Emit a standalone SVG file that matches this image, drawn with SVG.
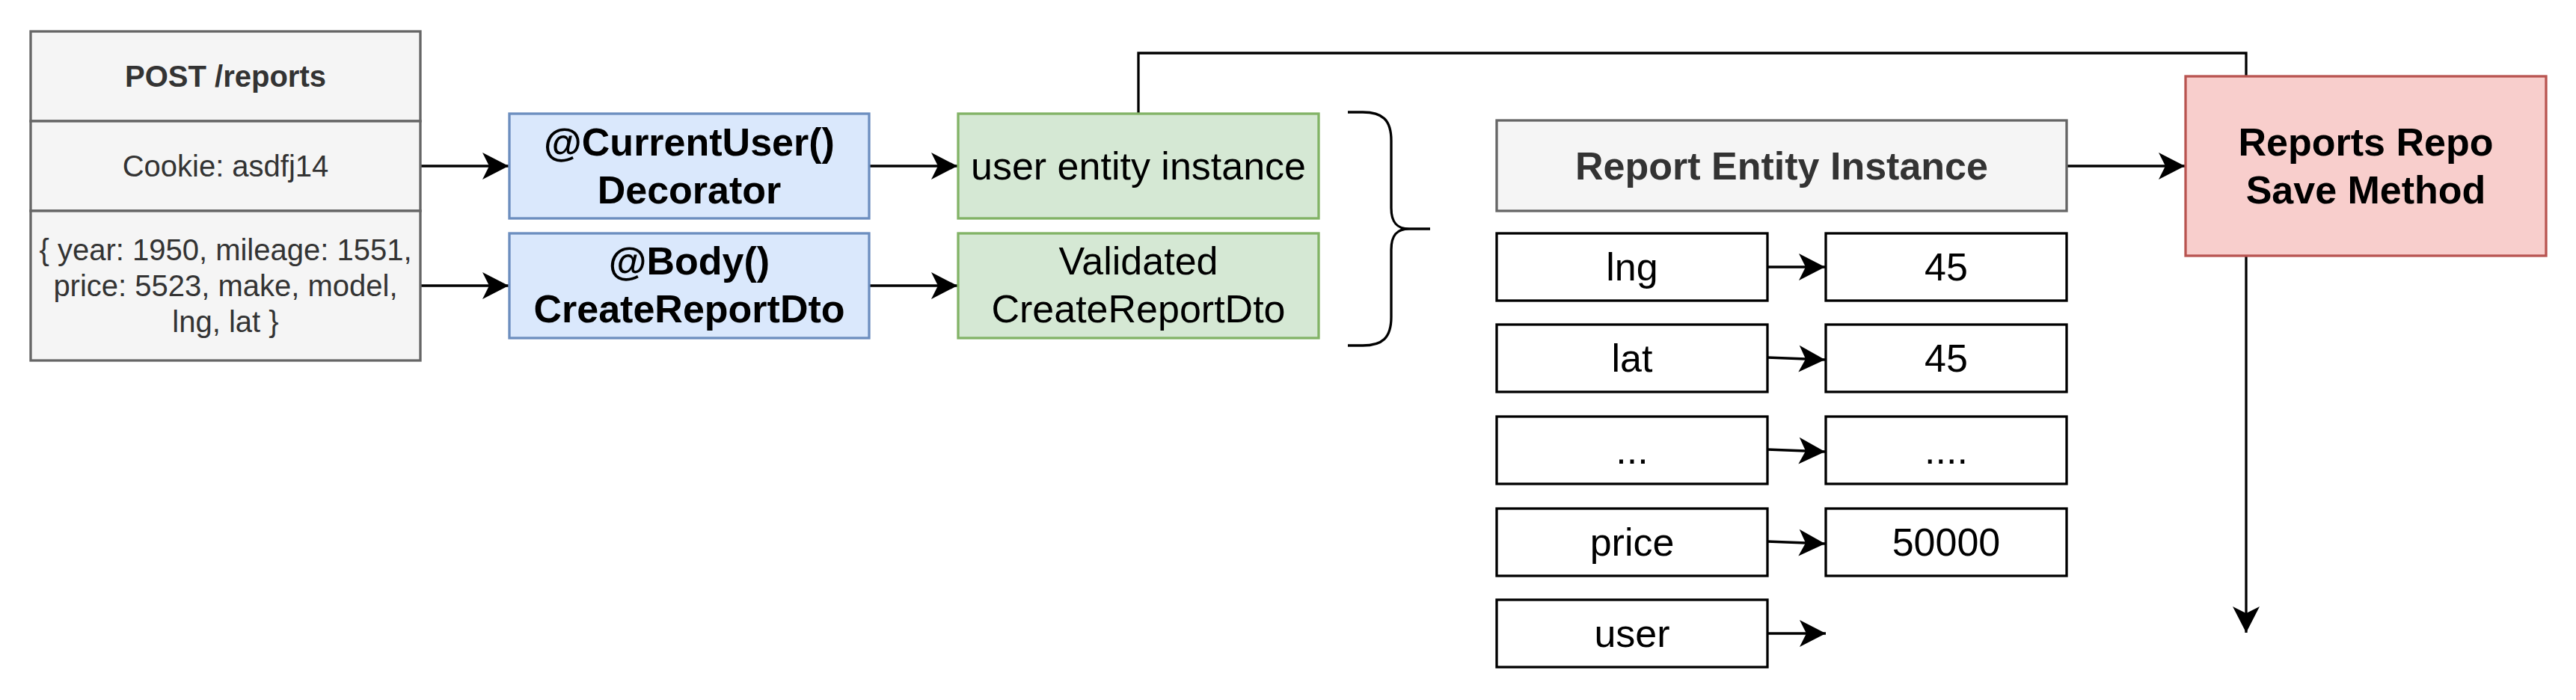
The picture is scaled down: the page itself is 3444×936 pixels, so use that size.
<svg xmlns="http://www.w3.org/2000/svg" width="3444" height="936" viewBox="0 0 3444 936">
<defs>
<marker id="arr" viewBox="-36 -20 38 40" refX="0" refY="0" markerWidth="38" markerHeight="40" markerUnits="userSpaceOnUse" orient="auto">
<path d="M0,0 L-35,-18 L-26,0 L-35,18 Z" fill="#000"/>
</marker>
</defs>
<style>
text{font-family:"Liberation Sans",Arial,Helvetica,sans-serif;text-anchor:middle}
.sm{font-size:40px;fill:#333333}
.lg{font-size:52px;fill:#000}
.b{font-weight:bold}
.gray{fill:#f5f5f5;stroke:#666666;stroke-width:3.3}
.blue{fill:#dae8fc;stroke:#6c8ebf;stroke-width:3.3}
.green{fill:#d5e8d4;stroke:#82b366;stroke-width:3.3}
.red{fill:#f8cecc;stroke:#b85450;stroke-width:3.3}
.plain{fill:#fff;stroke:#000;stroke-width:3.3}
.edge{fill:none;stroke:#000;stroke-width:3.3}
.edgea{fill:none;stroke:#000;stroke-width:3.3;marker-end:url(#arr)}
</style>
<rect width="3444" height="936" fill="#fff"/>
<g id="connectors">
<path class="edgea" d="M1522,152 V71 H3003 V846"/>
<path class="edgea" d="M562,222 H680"/>
<path class="edgea" d="M562,382 H680"/>
<path class="edgea" d="M1162,222 H1280"/>
<path class="edgea" d="M1162,382 H1280"/>
<path class="edgea" d="M2763,222 H2921"/>
<path class="edgea" d="M2363,357 H2440"/>
<path class="edgea" d="M2363,478 L2440,481"/>
<path class="edgea" d="M2363,601 L2440,604"/>
<path class="edgea" d="M2363,724 L2440,727"/>
<path class="edgea" d="M2363,847 H2441"/>
</g>
<g id="post-request">
<rect class="gray" x="41" y="42" width="521" height="120"/>
<rect class="gray" x="41" y="162" width="521" height="120"/>
<rect class="gray" x="41" y="282" width="521" height="200"/>
<text class="sm b" x="301.5" y="116">POST /reports</text>
<text class="sm" x="301.5" y="236">Cookie: asdfj14</text>
<text class="sm" x="301.5" y="348">{ year: 1950, mileage: 1551,</text>
<text class="sm" x="301.5" y="396">price: 5523, make, model,</text>
<text class="sm" x="301.5" y="444">lng, lat }</text>
</g>
<g id="current-user-decorator">
<rect class="blue" x="681" y="152" width="481" height="140"/>
<text class="lg b" x="921.5" y="208">@CurrentUser()</text>
<text class="lg b" x="921.5" y="272">Decorator</text>
</g>
<g id="body-dto">
<rect class="blue" x="681" y="312" width="481" height="140"/>
<text class="lg b" x="921.5" y="367">@Body()</text>
<text class="lg b" x="921.5" y="431">CreateReportDto</text>
</g>
<g id="user-entity-instance">
<rect class="green" x="1281" y="152" width="482" height="140"/>
<text class="lg" x="1522" y="240">user entity instance</text>
</g>
<g id="validated-dto">
<rect class="green" x="1281" y="312" width="482" height="140"/>
<text class="lg" x="1522" y="367">Validated</text>
<text class="lg" x="1522" y="431">CreateReportDto</text>
</g>
<g id="brace">
<path class="edge" d="M1802,150 L1822,150 C1848,150 1860,160 1860,188 L1860,278 C1860,298 1868,306 1884,306 L1912,306 M1884,306 C1868,306 1860,314 1860,334 L1860,424 C1860,452 1848,462 1822,462 L1802,462"/>
</g>
<g id="report-entity-instance">
<rect class="gray" x="2001" y="161" width="762" height="121"/>
<text class="lg b" x="2382" y="240" style="fill:#333333">Report Entity Instance</text>
</g>
<g id="field-lng">
<rect class="plain" x="2001" y="312" width="362" height="90"/>
<text class="lg" x="2182" y="375">lng</text>
</g>
<g id="value-lng">
<rect class="plain" x="2441" y="312" width="322" height="90"/>
<text class="lg" x="2602" y="375">45</text>
</g>
<g id="field-lat">
<rect class="plain" x="2001" y="434" width="362" height="90"/>
<text class="lg" x="2182" y="497">lat</text>
</g>
<g id="value-lat">
<rect class="plain" x="2441" y="434" width="322" height="90"/>
<text class="lg" x="2602" y="497">45</text>
</g>
<g id="field-more">
<rect class="plain" x="2001" y="557" width="362" height="90"/>
<text class="lg" x="2182" y="620">...</text>
</g>
<g id="value-more">
<rect class="plain" x="2441" y="557" width="322" height="90"/>
<text class="lg" x="2602" y="620">....</text>
</g>
<g id="field-price">
<rect class="plain" x="2001" y="680" width="362" height="90"/>
<text class="lg" x="2182" y="743">price</text>
</g>
<g id="value-price">
<rect class="plain" x="2441" y="680" width="322" height="90"/>
<text class="lg" x="2602" y="743">50000</text>
</g>
<g id="field-user">
<rect class="plain" x="2001" y="802" width="362" height="90"/>
<text class="lg" x="2182" y="865">user</text>
</g>
<g id="reports-repo-save">
<rect class="red" x="2922" y="102" width="482" height="240"/>
<text class="lg b" x="3163" y="208">Reports Repo</text>
<text class="lg b" x="3163" y="272">Save Method</text>
</g>
</svg>
